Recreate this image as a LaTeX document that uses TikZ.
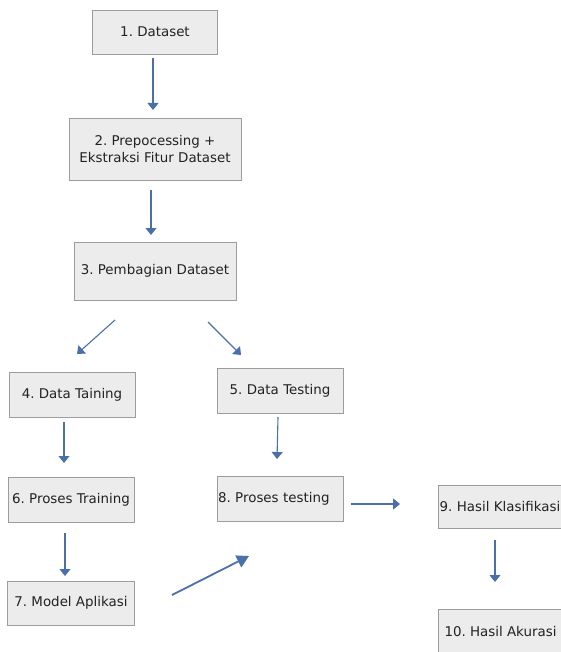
\documentclass[tikz,border=0pt]{standalone}
\usepackage{fontspec}
\setmainfont{DejaVu Sans}
\frenchspacing
\definecolor{boxfill}{HTML}{ECECEC}
\definecolor{boxline}{HTML}{9C9C9C}
\definecolor{textcol}{HTML}{222222}
\definecolor{arrowcol}{HTML}{4A70AA}
\usetikzlibrary{arrows.meta}

\begin{document}
\begin{tikzpicture}[x=1pt, y=-1pt,
  stage/.style={draw=boxline, fill=boxfill, line width=0.9pt, text=textcol,
    inner sep=0pt, align=center,
    font=\fontsize{13.4}{17.5}\selectfont},
  flow/.style={-{Triangle[length=7pt, width=11pt]}, arrowcol, line width=1.1pt},
  bigflow/.style={-{Triangle[length=12pt, width=13pt]}, arrowcol, line width=1.8pt}]

\useasboundingbox (0,0) rectangle (561,652);

% === Preparation ===
\node[stage, minimum width=125pt, minimum height=44pt] (dataset) at (155,32) {1. Dataset};
\node[stage, minimum width=172pt, minimum height=62pt] (prepro) at (155,149)
  {2. Prepocessing +\\Ekstraksi Fitur Dataset};
\node[stage, minimum width=162pt, minimum height=58pt] (split) at (155,271) {3. Pembagian Dataset};

% === Training branch ===
\node[stage, minimum width=126pt, minimum height=45pt] (train) at (72,395) {4. Data Taining};
\node[stage, minimum width=126pt, minimum height=45pt] (proctrain) at (71,500) {6. Proses Training};
\node[stage, minimum width=127pt, minimum height=44pt] (model) at (71,603) {7. Model Aplikasi};

% === Testing branch ===
\node[stage, text width=124pt, inner xsep=1pt, align=left, minimum height=45pt] (test) at (280,391)
  {\makebox[124pt]{5. Data Testing}};
\node[stage, text width=124pt, inner xsep=1pt, align=left, minimum height=45pt] (proctest) at (280,498.5)
  {\mbox{8. Proses testing}};

% === Results ===
\node[stage, text width=122pt, inner xsep=1.5pt, align=left, minimum height=43pt] (classif) at (500.5,506.5)
  {\mbox{9. Hasil Klasifikasi}};
\node[stage, minimum width=125pt, minimum height=44pt] (accuracy) at (500.5,631) {10. Hasil Akurasi};

% === Arrow ends ===
\coordinate (a1s) at (153,58);   \coordinate (a1e) at (153,110);
\coordinate (a2s) at (151,190);  \coordinate (a2e) at (151,235);
\coordinate (a3s) at (115,320);  \coordinate (a3e) at (77,354);
\coordinate (a4s) at (208,322);  \coordinate (a4e) at (241,355);
\coordinate (a5s) at (64,422);   \coordinate (a5e) at (64,463);
\coordinate (a6s) at (278,417);  \coordinate (a6e) at (277,459);
\coordinate (a7s) at (65,533);   \coordinate (a7e) at (65,576);
\coordinate (a8s) at (172,595);  \coordinate (a8e) at (249,556);
\coordinate (a9s) at (351,504);  \coordinate (a9e) at (400,504);
\coordinate (a10s) at (495,540); \coordinate (a10e) at (495,582);

\draw[flow] (a1s) -- (a1e);
\draw[flow] (a2s) -- (a2e);
\draw[flow] (a3s) -- (a3e);
\draw[flow] (a4s) -- (a4e);
\draw[flow] (a5s) -- (a5e);
\draw[flow] (a6s) -- (a6e);
\draw[flow] (a7s) -- (a7e);
\draw[bigflow] (a8s) -- (a8e);
\draw[flow] (a9s) -- (a9e);
\draw[flow] (a10s) -- (a10e);

\end{tikzpicture}
\end{document}
